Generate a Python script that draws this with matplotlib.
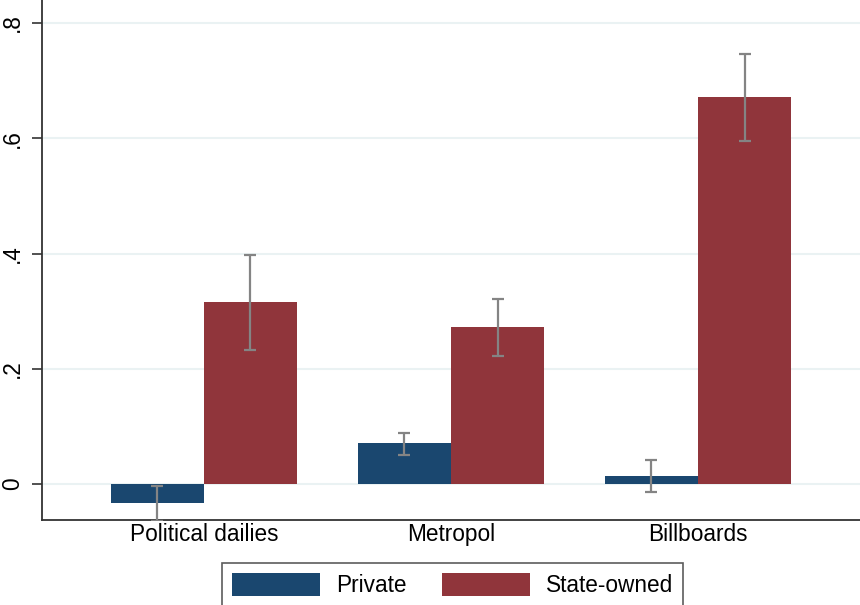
import matplotlib.pyplot as plt
import numpy as np

plt.rcParams['font.family'] = ['Liberation Sans', 'DejaVu Sans']

categories = ['Political dailies', 'Metropol', 'Billboards']
private = [-0.0335, 0.071, 0.0139]
private_lo = [-0.0635, 0.050, -0.0139]
private_hi = [-0.0035, 0.0885, 0.0417]
state = [0.316, 0.272, 0.6716]
state_lo = [0.2325, 0.222, 0.595]
state_hi = [0.397, 0.321, 0.746]

W, H = 860, 605
fig = plt.figure(figsize=(W / 100, H / 100), dpi=100)
ax = fig.add_axes([42 / W, (H - 520) / H, (W - 42) / W, 520 / H])

x = np.arange(len(categories))
bw = 93 / 247
blue = '#1a476f'
red = '#90353b'

b1 = ax.bar(x - bw / 2, private, bw, color=blue, label='Private', zorder=2)
b2 = ax.bar(x + bw / 2, state, bw, color=red, label='State-owned', zorder=2)

err_kw = dict(fmt='none', ecolor='#848484', elinewidth=1.6, capsize=4.3, capthick=1.6, zorder=3)
ax.errorbar(x - bw / 2, private,
            yerr=[np.array(private) - np.array(private_lo), np.array(private_hi) - np.array(private)],
            **err_kw)
ax.errorbar(x + bw / 2, state,
            yerr=[np.array(state) - np.array(state_lo), np.array(state_hi) - np.array(state)],
            **err_kw)

ax.set_xlim((42 - 204) / 247, (860 - 204) / 247)
ax.set_ylim(-0.0625, 0.840)
ax.set_yticks([0, 0.2, 0.4, 0.6, 0.8])
ax.set_yticklabels(['0', '.2', '.4', '.6', '.8'], rotation=90, va='center', fontsize=16.3)
ax.set_xticks(x)
ax.set_xticklabels(categories, fontsize=16.3)
ax.tick_params(axis='x', length=0, pad=2)
ax.tick_params(axis='y', length=7, width=1.2, color='#333333', pad=6)
ax.yaxis.grid(True, color='#eaf2f3', linewidth=1.5, zorder=0)
ax.set_axisbelow(True)

for s in ['top', 'right']:
    ax.spines[s].set_visible(False)
for s in ['left', 'bottom']:
    ax.spines[s].set_color('#333333')
    ax.spines[s].set_linewidth(1.3)

leg = fig.legend(handles=[b1, b2], loc='upper left', bbox_to_anchor=(222 / W, 1 - 563 / H),
                 ncol=2, fontsize=16.3, frameon=True, fancybox=False, edgecolor='#333333',
                 handlelength=3.9, handleheight=1.15, handletextpad=0.7, columnspacing=1.55,
                 borderpad=0.45, borderaxespad=0)
leg.get_frame().set_linewidth(1.2)

fig.savefig('out.png', dpi=100)
